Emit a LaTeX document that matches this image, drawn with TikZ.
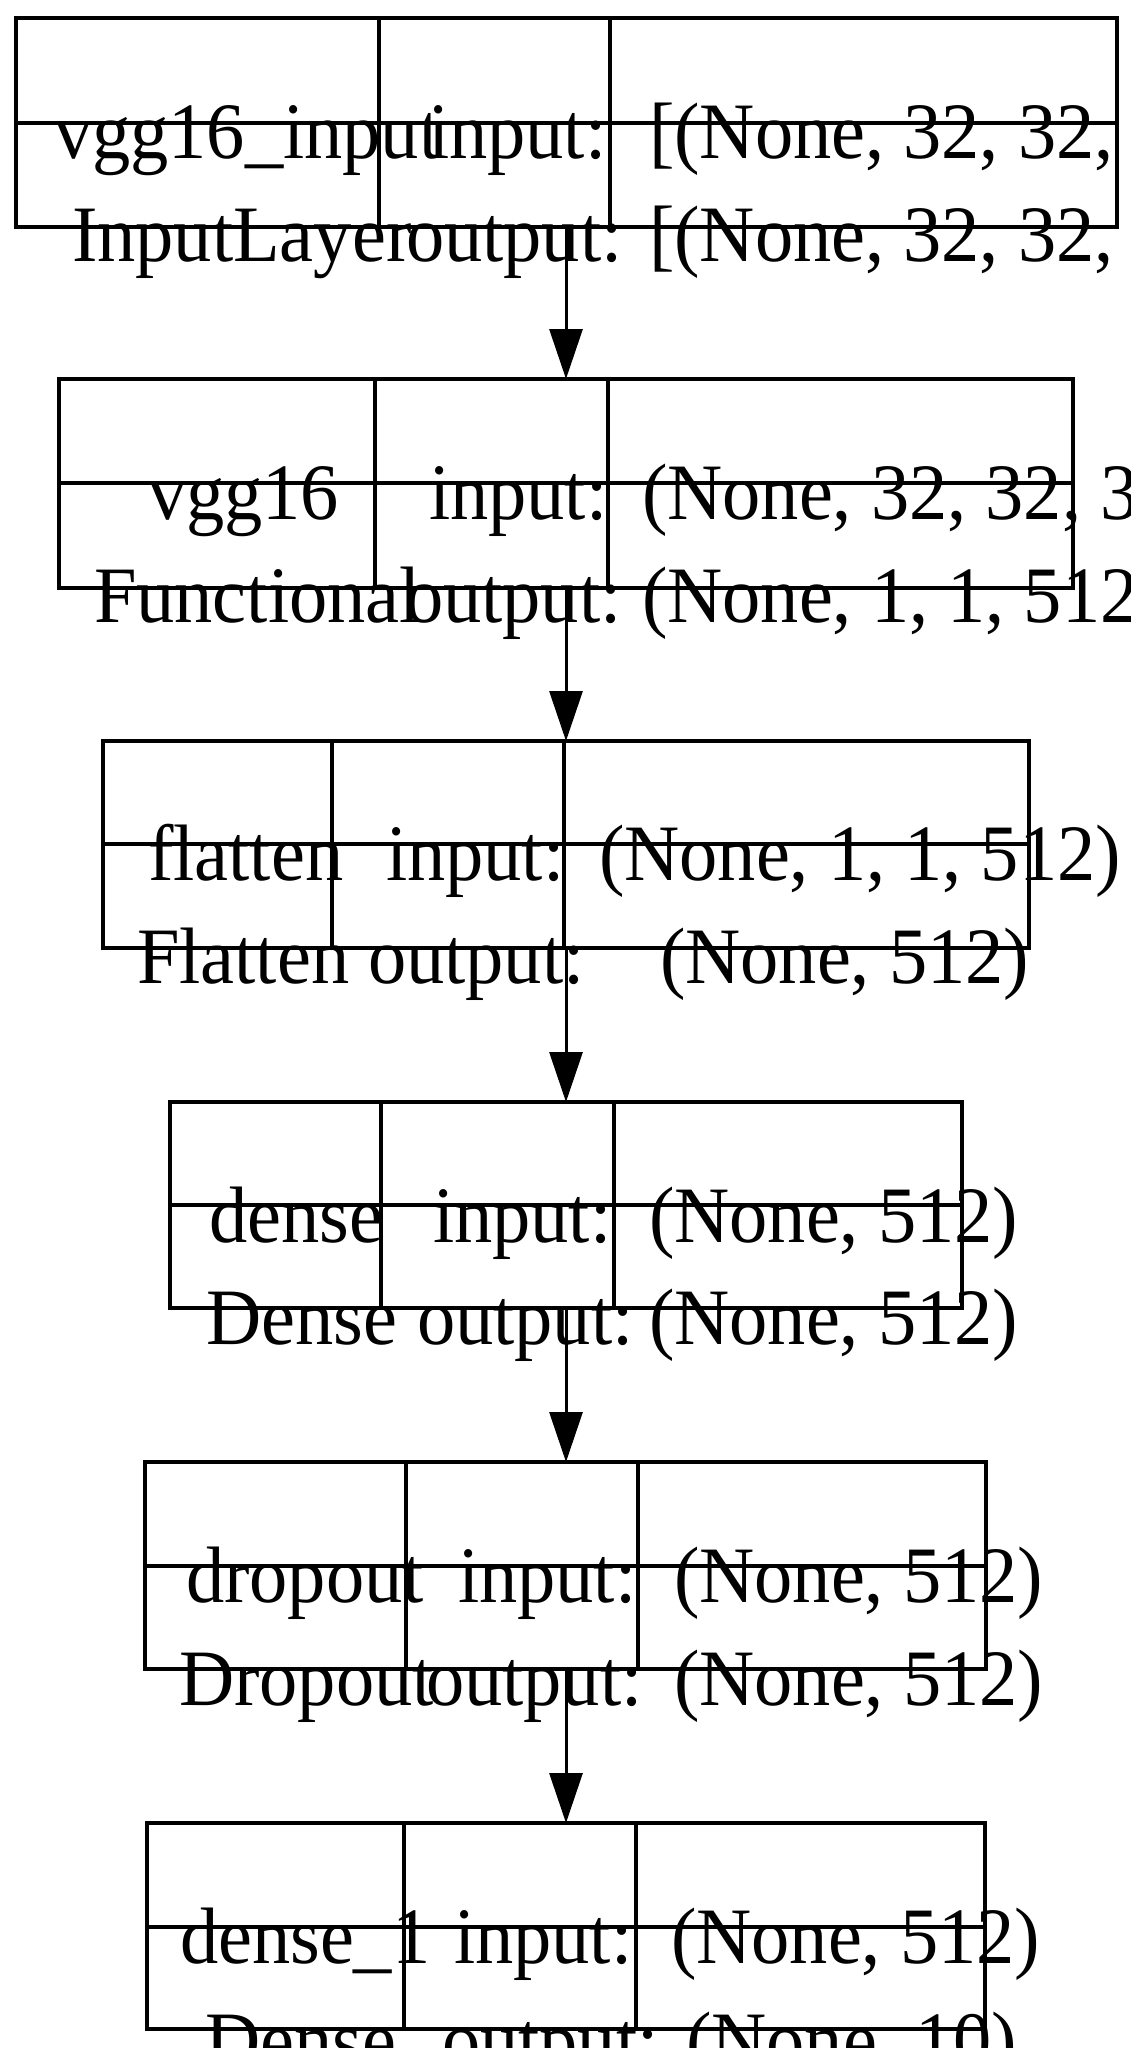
\documentclass[tikz,border=0pt]{standalone}
\usepackage{fontspec}
\setmainfont{Liberation Serif}[FakeStretch=0.955]
\usetikzlibrary{arrows.meta}
\begin{document}
\begin{tikzpicture}[x=1pt,y=-1pt,
  layerbox/.style={draw=black, line width=4pt, inner sep=0pt, outer sep=0pt},
  divider/.style={draw=black, line width=3.5pt},
  lbl/.style={anchor=base west, inner sep=0pt, outer sep=0pt, font=\fontsize{80}{92}\selectfont},
  arr/.style={draw=black, line width=3pt, -{Triangle[length=50pt,width=33pt]}}]
\useasboundingbox (0,0) rectangle (1131,2048);
\clip (0,0) rectangle (1131,2048);
\coordinate (ax) at (566,0);

% box 1
\node[layerbox, minimum width=1101pt, minimum height=209pt] (b1) at (566.5,122.5) {};
\draw[divider] (379,18) -- (379,227);
\draw[divider] (610,18) -- (610,227);
\draw[divider] (16,123) -- (1117,123);
\node[lbl] (t1a) at (54,158) {vgg16\_input};
\node[lbl] (t1b) at (428,158) {input:};
\node[lbl] (t1c) at (649,158) {[(None, 32, 32, 3)]};
\node[lbl] (t1d) at (72,261) {InputLayer};
\node[lbl] (t1e) at (406,261) {output:};
\node[lbl] (t1f) at (649,261) {[(None, 32, 32, 3)]};

% box 2
\node[layerbox, minimum width=1014pt, minimum height=209pt] (b2) at (566,483.5) {};
\draw[divider] (375,379) -- (375,588);
\draw[divider] (608,379) -- (608,588);
\draw[divider] (59,483) -- (1073,483);
\node[lbl] (t2a) at (148,519) {vgg16};
\node[lbl] (t2b) at (429,519) {input:};
\node[lbl] (t2c) at (642,519) {(None, 32, 32, 3)};
\node[lbl] (t2d) at (94,622) {Functional};
\node[lbl] (t2e) at (405,622) {output:};
\node[lbl] (t2f) at (642,622) {(None, 1, 1, 512)};

% box 3
\node[layerbox, minimum width=926pt, minimum height=207pt] (b3) at (566,844.5) {};
\draw[divider] (332,741) -- (332,948);
\draw[divider] (564,741) -- (564,948);
\draw[divider] (103,844) -- (1029,844);
\node[lbl] (t3a) at (148,880) {flatten};
\node[lbl] (t3b) at (386,880) {input:};
\node[lbl] (t3c) at (599,880) {(None, 1, 1, 512)};
\node[lbl] (t3d) at (137,983) {Flatten};
\node[lbl] (t3e) at (368,983) {output:};
\node[lbl] (t3f) at (660,983) {(None, 512)};

% box 4
\node[layerbox, minimum width=792pt, minimum height=206pt] (b4) at (566,1205) {};
\draw[divider] (381,1102) -- (381,1308);
\draw[divider] (614,1102) -- (614,1308);
\draw[divider] (170,1205) -- (962,1205);
\node[lbl] (t4a) at (209,1242) {dense};
\node[lbl] (t4b) at (433,1242) {input:};
\node[lbl] (t4c) at (649,1242) {(None, 512)};
\node[lbl] (t4d) at (206,1344) {Dense};
\node[lbl] (t4e) at (417,1344) {output:};
\node[lbl] (t4f) at (649,1344) {(None, 512)};

% box 5
\node[layerbox, minimum width=841pt, minimum height=207pt] (b5) at (565.5,1565.5) {};
\draw[divider] (406,1462) -- (406,1669);
\draw[divider] (638,1462) -- (638,1669);
\draw[divider] (145,1566) -- (986,1566);
\node[lbl] (t5a) at (186,1602) {dropout};
\node[lbl] (t5b) at (458,1602) {input:};
\node[lbl] (t5c) at (674,1602) {(None, 512)};
\node[lbl] (t5d) at (179,1705) {Dropout};
\node[lbl] (t5e) at (426,1705) {output:};
\node[lbl] (t5f) at (674,1705) {(None, 512)};

% box 6
\node[layerbox, minimum width=838pt, minimum height=206pt] (b6) at (566,1926) {};
\draw[divider] (404,1823) -- (404,2029);
\draw[divider] (636,1823) -- (636,2029);
\draw[divider] (147,1927) -- (985,1927);
\node[lbl] (t6a) at (180,1963) {dense\_1};
\node[lbl] (t6b) at (454,1963) {input:};
\node[lbl] (t6c) at (671,1963) {(None, 512)};
\node[lbl] (t6d) at (205,2067) {Dense};
\node[lbl] (t6e) at (442,2067) {output:};
\node[lbl] (t6f) at (686,2067) {(None, 10)};

% connectors
\draw[arr] (b1.south -| ax) -- (b2.north -| ax);
\draw[arr] (b2.south -| ax) -- (b3.north -| ax);
\draw[arr] (b3.south -| ax) -- (b4.north -| ax);
\draw[arr] (b4.south -| ax) -- (b5.north -| ax);
\draw[arr] (b5.south -| ax) -- (b6.north -| ax);
\end{tikzpicture}
\end{document}
